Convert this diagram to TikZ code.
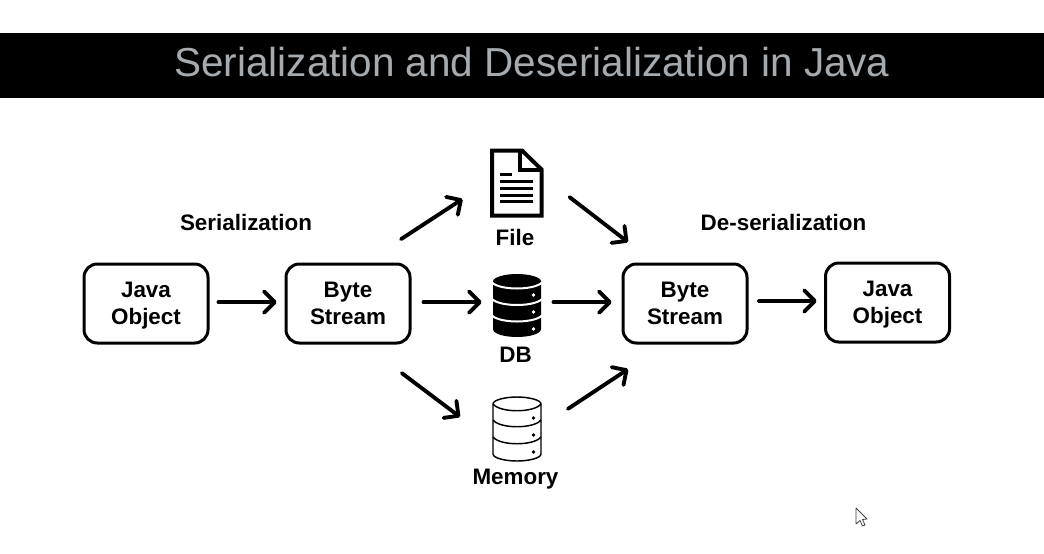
\documentclass[tikz,border=0pt]{standalone}
\usepackage{fontspec}
\setmainfont{Liberation Sans}
\usetikzlibrary{arrows.meta, positioning}
\definecolor{titlegray}{HTML}{A6ABB0}

\begin{document}
\begin{tikzpicture}[
		x=0.75pt, y=-0.75pt,
		block/.style = {draw, rectangle, rounded corners=10pt, line width=2.25pt, minimum height=59.25pt, minimum width=93pt, align=center, font=\fontsize{16.8}{20.3}\selectfont\bfseries, inner sep=0pt, outer sep=0pt, text depth=-0.75pt},
		caption/.style = {font=\fontsize{16.8}{20}\selectfont\bfseries, inner sep=0pt},
		icon/.style = {inner sep=0pt, outer sep=0pt, minimum width=37.5pt},
		flow/.style = {-{Straight Barb[round, length=8pt, width=16pt]}, line width=2.9pt, line cap=round},
		>={Latex}
		]
		\useasboundingbox (0,0) rectangle (1044,553);
		% Banda del titulo
		\fill[black] (0,33) rectangle (1044,98);
		\node[inner sep=0pt, text=titlegray, font=\fontsize{30.35}{36}\selectfont] (title) at (532,62) {Serialization and Deserialization in Java};

		% Bloques
		\node[block] (java1) at (146,303.5) {Java\\Object};
		\node[block, right=58.5pt of java1] (bs1) {Byte\\Stream};
		\node[block, right=159.75pt of bs1] (bs2) {Byte\\Stream};
		\node[block, right=58.9pt of bs2, yshift=0.75pt] (java2) {Java\\Object};
		\node[icon, minimum height=48.75pt] (file) at (516.5,182.5) {};
		\node[icon, minimum height=48pt] (db) at (517,303.5) {};
		\node[icon, minimum height=48pt] (mem) at (517,429) {};

		% Textos
		\node[caption] (serial) at (246,222.5) {Serialization};
		\node[caption] (deserial) at (783.5,222.5) {De-serialization};
		\node[caption] (filetext) at (515,237) {File};
		\node[caption] (dbtext) at (515.5,355) {DB};
		\node[caption] (memtext) at (515.5,479.5) {Memory};

		% Icono de archivo
		\draw[line width=3pt, miter limit=10] (492,150.5) -- (522,150.5) -- (541.5,169.5) -- (541.5,215.5) -- (492,215.5) -- cycle;
		\draw[line width=3pt] (520,150.5) -- (520,169.5) -- (541.5,169.5);
		\draw[line width=2.25pt] (500,174.5) -- (512,174.5);
		\foreach \y in {181.5,188.5,195,201.5}
			\draw[line width=2.25pt] (500,\y) -- (532.5,\y);

		% Icono de base de datos
		\fill[black] (493,281.5) .. controls (493,277) and (505,274) .. (517,274) .. controls (529,274) and (541,277) .. (541,281.5) -- (541,329) .. controls (541,334) and (529,337) .. (517,337) .. controls (505,337) and (493,334) .. (493,329) -- cycle;
		\foreach \y in {282.5,299,315.5}
			\draw[white, line width=1.5pt] (492,\y) .. controls (500,\y+8) and (534,\y+8) .. (542,\y);
		\foreach \y in {295,312,329}
			\fill[white] (533.5,\y) circle[radius=1.8];

		% Icono de memoria
		\draw[line width=1.1pt] (493,404) .. controls (493,400) and (505,397) .. (517,397) .. controls (529,397) and (541,400) .. (541,404) -- (541,454) .. controls (541,458) and (529,461) .. (517,461) .. controls (505,461) and (493,458) .. (493,454) -- cycle;
		\foreach \y in {404,420,437}
			\draw[line width=1.1pt] (493,\y) .. controls (500,\y+9) and (534,\y+9) .. (541,\y);
		\foreach \y in {418,435,452}
			\fill[black] (533.5,\y) circle[radius=1.8];

		% Conexiones
		\draw[flow, shorten <=7.85pt, shorten >=7pt] ([yshift=1pt]java1.east) -- ([yshift=1pt]bs1.west);
		\draw[flow, shorten <=10.1pt, shorten >=7.75pt] ([yshift=1pt]bs1.east) -- ([yshift=1pt]db.west);
		\draw[flow, shorten <=8.6pt, shorten >=8.5pt] ([yshift=1pt]db.east) -- ([yshift=1pt]bs2.west);
		\draw[flow, shorten <=8.6pt, shorten >=6.6pt] ([yshift=1.9pt]bs2.east) -- ([yshift=1.1pt]java2.west);
		\draw[flow, shorten <=34.1pt, shorten >=26pt] ([shift={(15,0)}]bs1.north) -- ([shift={(0,-2.5)}]file.west);
		\draw[flow, shorten <=26.6pt, shorten >=26.9pt] ([shift={(0,-7)}]file.east) -- ([shift={(-28.6,0)}]bs2.north);
		\draw[flow, shorten <=37.6pt, shorten >=30pt] ([shift={(13.8,0)}]bs1.south) -- ([shift={(0,12)}]mem.west);
		\draw[flow, shorten <=23.3pt, shorten >=35.5pt] ([shift={(0,-3)}]mem.east) -- ([shift={(-17.4,0)}]bs2.south);

		% Cursor
		\draw[black!75, fill=white, line width=0.6pt, line join=round] (856,508) -- (856,524) -- (860,520.5) -- (862.5,526) -- (865,525) -- (862.5,519.5) -- (867,519) -- cycle;
	\end{tikzpicture}
\end{document}
